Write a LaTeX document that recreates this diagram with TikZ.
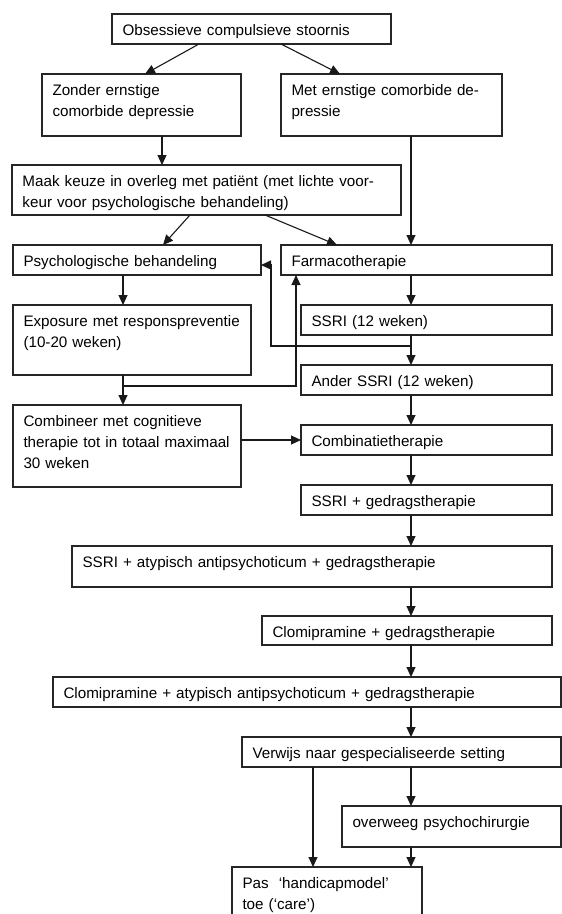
\documentclass[tikz,border=0pt]{standalone}
\usepackage{fontspec}
\setmainfont{Liberation Sans}
\usetikzlibrary{arrows.meta}
\hyphenpenalty=10000
\tikzset{
  flowbox/.style={draw=black!85, line width=1.1pt, rectangle, anchor=north west, inner sep=0pt, outer sep=0pt},
  boxtext/.style={anchor=base west, inner sep=0pt, outer sep=0pt, font=\fontsize{15.2}{21}\selectfont, align=left},
  arr/.style={draw=black!90, line width=1.1pt, -{Triangle[length=10pt,width=9pt]}},
}
\newcommand{\fbx}[6]{%
  \node[flowbox, minimum width=#4pt, minimum height=#5pt] (#1) at (#2,#3) {};
  \node[boxtext, text width=#4pt-14pt] (#1T) at ([xshift=10.5pt,yshift=-21pt]#1.north west) {#6};}
\begin{document}
\begin{tikzpicture}[x=1pt,y=-1pt]
\useasboundingbox (0,0) rectangle (562,914);
\fill[white] (0,0) rectangle (562,914);
% boxes
\fbx{top}{112}{14}{279}{30}{Obsessieve compulsieve stoornis}
\fbx{zonder}{42}{74}{199}{62}{Zonder ernstige\\comorbide depressie}
\fbx{met}{281}{74}{221}{62}{\makebox[194pt][s]{Met ernstige comorbide de-}\\pressie}
\fbx{maak}{12}{165}{389}{50}{\makebox[369pt][s]{Maak keuze in overleg met patiënt (met lichte voor-}\\keur voor psychologische behandeling)}
\fbx{psych}{13}{245}{248}{30}{Psychologische behandeling}
\fbx{farma}{281}{245}{271}{30}{Farmacotherapie}
\fbx{expo}{13}{305}{238}{70}{Exposure met responspreventie\\(10-20 weken)}
\fbx{ssri}{301}{305}{251}{30}{SSRI (12 weken)}
\fbx{ander}{301}{365}{251}{30}{Ander SSRI (12 weken)}
\fbx{comb}{13}{405}{228}{82}{\makebox[208pt][s]{Combineer met cognitieve}\\\makebox[208pt][s]{therapie tot in totaal maximaal}\\30 weken}
\fbx{combt}{301}{425}{251}{30}{Combinatietherapie}
\fbx{ssrig}{301}{485}{251}{30}{SSRI + gedragstherapie}
\fbx{ssria}{72}{546}{480}{41}{SSRI + atypisch antipsychoticum + gedragstherapie}
\fbx{clomi}{262}{616}{290}{29}{Clomipramine + gedragstherapie}
\fbx{clomia}{53}{677}{508}{30}{Clomipramine + atypisch antipsychoticum + gedragstherapie}
\fbx{verw}{242}{737}{319}{30}{Verwijs naar gespecialiseerde setting}
\fbx{overw}{342}{806}{219}{41}{overweeg psychochirurgie}
\fbx{pas}{232}{867}{190}{70}{Pas\ \ ‘handicapmodel’\\toe (‘care’)}
% column and junction coordinates
\coordinate (colR) at (411,0);
\coordinate (colL) at (123,0);
\coordinate (colZ) at (162,0);
\coordinate (colV) at (313,0);
\coordinate (j1) at (411,346);
\coordinate (j2) at (123,386);
% connectors
\draw[arr] ([xshift=87pt]top.south west) -- ([xshift=103pt]zonder.north west);
\draw[arr] ([xshift=169pt]top.south west) -- ([xshift=59pt]met.north west);
\draw[arr] (zonder.south -| colZ) -- (maak.north -| colZ);
\draw[arr] (met.south -| colR) -- (farma.north -| colR);
\draw[arr] ([xshift=178pt]maak.south west) -- ([xshift=150pt]psych.north west);
\draw[arr] ([xshift=253pt]maak.south west) -- ([xshift=56pt]farma.north west);
\draw[arr] (psych.south -| colL) -- (expo.north -| colL);
\draw[arr] (farma.south -| colR) -- (ssri.north -| colR);
\draw[arr] (ssri.south -| colR) -- (ander.north -| colR);
\draw[arr] (j1) -| ([xshift=10pt,yshift=-5pt]psych.east) -- ([yshift=-5pt]psych.east);
\draw[arr] (expo.south -| colL) -- (comb.north -| colL);
\draw[arr] (j2) -| ([xshift=15pt]farma.south west);
\draw[arr] (combt.west -| comb.east) -- (combt.west);
\draw[arr] (ander.south -| colR) -- (combt.north -| colR);
\draw[arr] (combt.south -| colR) -- (ssrig.north -| colR);
\draw[arr] (ssrig.south -| colR) -- (ssria.north -| colR);
\draw[arr] (ssria.south -| colR) -- (clomi.north -| colR);
\draw[arr] (clomi.south -| colR) -- (clomia.north -| colR);
\draw[arr] (clomia.south -| colR) -- (verw.north -| colR);
\draw[arr] (verw.south -| colR) -- (overw.north -| colR);
\draw[arr] (verw.south -| colV) -- (pas.north -| colV);
\draw[arr] (overw.south -| colR) -- (pas.north -| colR);
\end{tikzpicture}
\end{document}
